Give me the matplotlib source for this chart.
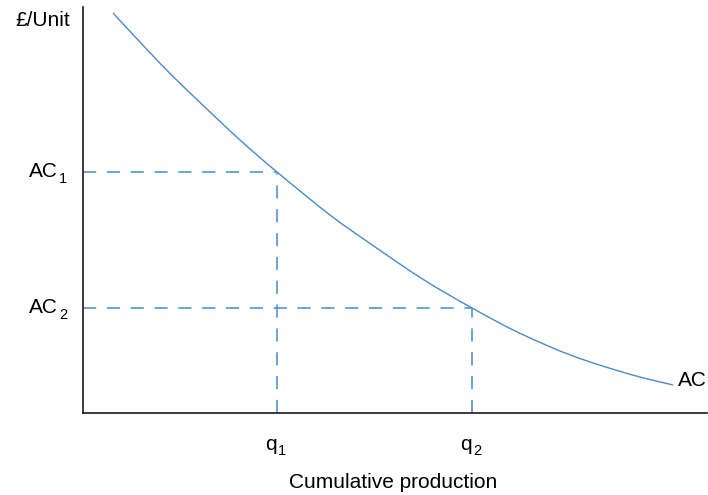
import matplotlib
matplotlib.use("Agg")
import matplotlib.pyplot as plt
from matplotlib.path import Path
from matplotlib.patches import PathPatch

plt.rcParams['font.family'] = ['Liberation Sans', 'DejaVu Sans']

# Average cost curve (cumulative production vs £/unit)
curve_x = [30, 77, 110, 157, 194, 247, 290, 340, 389, 437, 490, 547, 590]
curve_y = [400, 349.7, 317.2, 273, 241, 198, 167.5, 133.7, 105, 79.7, 57, 38.7, 28]
q_vals = [194, 389]
ac_vals = [241, 105]
q_main = ['q', 'q']
q_subs = ['1', '2']
ac_main = ['AC', 'AC']
ac_subs = ['1', '2']

color = '#4a89cc'
FS = 15
SFS = 10.5
W, H = 708, 495
fig = plt.figure(figsize=(W / 100, H / 100), dpi=100)
ax = fig.add_axes([83 / W, (H - 413) / H, (707 - 83) / W, (413 - 7) / H])
ax.set_xlim(0, 624)
ax.set_ylim(0, 406)

# smooth curve through the read points (cubic Bezier segments, Catmull-Rom style)
pts = list(zip(curve_x, curve_y))
verts = [pts[0]]
codes = [Path.MOVETO]
n = len(pts)
for i in range(n - 1):
    p0 = pts[max(i - 1, 0)]
    p1 = pts[i]
    p2 = pts[i + 1]
    p3 = pts[min(i + 2, n - 1)]
    c1 = (p1[0] + (p2[0] - p0[0]) / 6, p1[1] + (p2[1] - p0[1]) / 6)
    c2 = (p2[0] - (p3[0] - p1[0]) / 6, p2[1] - (p3[1] - p1[1]) / 6)
    verts += [c1, c2, p2]
    codes += [Path.CURVE4] * 3
ax.add_patch(PathPatch(Path(verts, codes), fill=False, edgecolor=color, lw=1.0))

for q, a in zip(q_vals, ac_vals):
    ax.plot([0, q], [a, a], color=color, lw=1.1, dashes=(8.6, 7.0))
    ax.plot([q, q], [0, a], color=color, lw=1.1, dashes=(8.6, 7.0))

for s in ['top', 'right']:
    ax.spines[s].set_visible(False)
for s in ['left', 'bottom']:
    ax.spines[s].set_linewidth(1.2)
    ax.spines[s].set_color('#1a1a1a')
ax.set_xticks([])
ax.set_yticks([])

# y labels AC1, AC2 with subscripts
for a, m, s in zip(ac_vals, ac_main, ac_subs):
    ax.annotate(m, xy=(0, a), xytext=(-25, -5), textcoords='offset pixels',
                fontsize=FS, ha='right', va='baseline', annotation_clip=False)
    ax.annotate(s, xy=(0, a), xytext=(-24, -11), textcoords='offset pixels',
                fontsize=SFS, ha='left', va='baseline', annotation_clip=False)

# x labels q1, q2 with subscripts
for q, m, s in zip(q_vals, q_main, q_subs):
    ax.annotate(m, xy=(q, 0), xytext=(0, -37), textcoords='offset pixels',
                fontsize=FS, ha='right', va='baseline', annotation_clip=False)
    ax.annotate(s, xy=(q, 0), xytext=(1, -42), textcoords='offset pixels',
                fontsize=SFS, ha='left', va='baseline', annotation_clip=False)

ax.annotate('Cumulative production', xy=(0.5, 0), xycoords='axes fraction',
            xytext=(-2, -75), textcoords='offset pixels', fontsize=FS,
            ha='center', va='baseline', annotation_clip=False)

ax.text(-13, 393, '£/Unit', fontsize=FS, ha='right', va='center')
ax.text(curve_x[-1] + 5, curve_y[-1] + 5, 'AC', fontsize=FS, ha='left', va='center')

fig.savefig('out.png', dpi=100)
